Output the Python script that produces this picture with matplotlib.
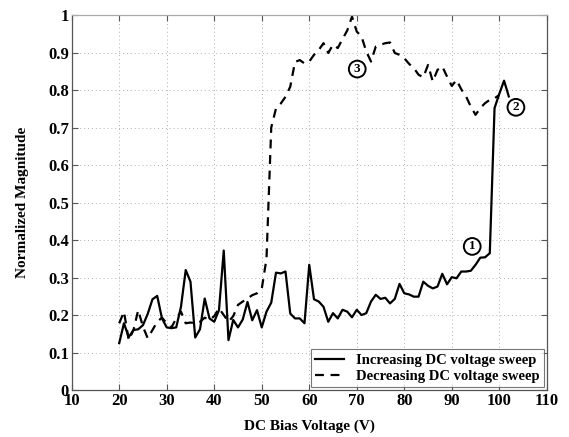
import matplotlib
matplotlib.use("Agg")
import matplotlib.pyplot as plt
import numpy as np

# increasing sweep, 20..102 V
inc_v = np.arange(20, 103)
inc_mag = [0.125, 0.178, 0.141, 0.160, 0.162, 0.173, 0.203, 0.242, 0.251, 0.191,
           0.167, 0.165, 0.167, 0.222, 0.320, 0.289, 0.140, 0.162, 0.244, 0.191,
           0.182, 0.213, 0.372, 0.133, 0.187, 0.167, 0.188, 0.235, 0.186, 0.213,
           0.167, 0.209, 0.233, 0.313, 0.311, 0.316, 0.204, 0.191, 0.191, 0.178,
           0.334, 0.242, 0.236, 0.222, 0.182, 0.205, 0.191, 0.214, 0.209, 0.194,
           0.214, 0.200, 0.205, 0.236, 0.254, 0.243, 0.246, 0.231, 0.243, 0.283,
           0.258, 0.255, 0.249, 0.249, 0.289, 0.278, 0.271, 0.276, 0.310, 0.282,
           0.301, 0.298, 0.316, 0.316, 0.318, 0.334, 0.353, 0.354, 0.365, 0.752,
           0.790, 0.825, 0.783]

# decreasing sweep, 20..100 V
dec_v = np.arange(20, 101)
dec_mag = [0.178, 0.209, 0.133, 0.160, 0.213, 0.169, 0.138, 0.160, 0.182, 0.193,
           0.178, 0.167, 0.191, 0.209, 0.178, 0.180, 0.178, 0.182, 0.193, 0.187,
           0.197, 0.218, 0.200, 0.182, 0.197, 0.227, 0.236, 0.244, 0.253, 0.258,
           0.270, 0.350, 0.700, 0.751, 0.764, 0.782, 0.809, 0.875, 0.880, 0.871,
           0.876, 0.894, 0.907, 0.925, 0.899, 0.921, 0.912, 0.936, 0.959, 0.996,
           0.956, 0.943, 0.903, 0.876, 0.916, 0.921, 0.925, 0.927, 0.899, 0.894,
           0.885, 0.870, 0.859, 0.841, 0.834, 0.867, 0.823, 0.854, 0.863, 0.836,
           0.811, 0.827, 0.802, 0.783, 0.756, 0.734, 0.752, 0.765, 0.774, 0.778,
           0.787]

marks = ["1", "2", "3"]
mark_x = [94.3, 103.5, 70.1]
mark_y = [0.383, 0.754, 0.856]

plt.rcParams["font.family"] = ["Liberation Serif", "DejaVu Serif"]
plt.rcParams["font.weight"] = "bold"

fig = plt.figure(figsize=(5.69, 4.37), dpi=100)
ax = fig.add_axes([0.126, 0.1075, 0.835, 0.858])

ax.plot(inc_v, inc_mag, "k-", lw=1.6, label="Increasing DC voltage sweep")
ax.plot(dec_v, dec_mag, "k--", lw=1.6, dashes=(4, 3), label="Decreasing DC voltage sweep")

for t, x, y in zip(marks, mark_x, mark_y):
    ax.text(x, y, t, ha="center", va="center", fontsize=9.5, fontweight="bold",
            bbox=dict(boxstyle="circle,pad=0.18", fc="white", ec="black", lw=1.4))

ax.set_xlim(10, 110)
ax.set_ylim(0, 1)
ax.set_xticks(np.arange(10, 111, 10))
ax.set_yticks(np.arange(0, 1.01, 0.1))
ax.set_yticklabels(["0", "0.1", "0.2", "0.3", "0.4", "0.5", "0.6", "0.7", "0.8", "0.9", "1"])
ax.grid(True, ls=(0, (1, 3)), color="#b0b0b0", lw=0.7)
ax.tick_params(direction="in", labelsize=12, length=4, top=True, right=True,
               pad=2, color="#555555")
for s in ax.spines.values():
    s.set_linewidth(0.9)
    s.set_color("#555555")
ax.spines["top"].set_color("#aaaaaa")

ax.set_xlabel("DC Bias Voltage (V)", fontsize=11, fontweight="bold", labelpad=8)
ax.set_ylabel("Normalized Magnitude", fontsize=11, fontweight="bold", labelpad=14)

leg = ax.legend(loc="lower right", fontsize=10.5, frameon=True, fancybox=False,
                edgecolor="#555555", borderaxespad=0.2, handlelength=2.0,
                borderpad=0.3, labelspacing=0.2)
leg.get_frame().set_linewidth(0.8)

fig.savefig("out.png", dpi=100)
